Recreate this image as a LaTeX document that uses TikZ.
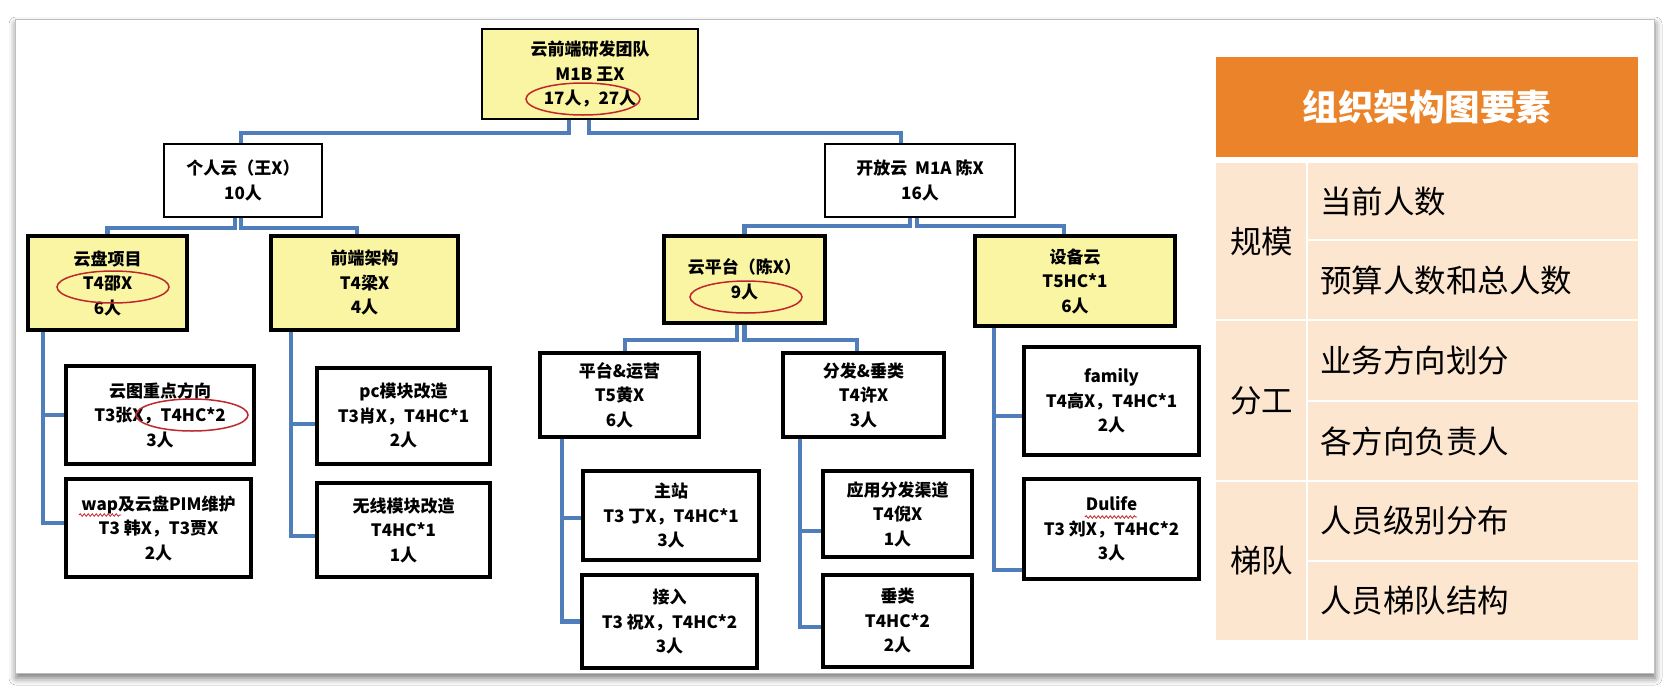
\documentclass[tikz,border=0pt]{standalone}
\usepackage{fontspec}
\setmainfont{Noto Sans CJK SC}
\usetikzlibrary{shadows.blur,decorations.pathmorphing}
\definecolor{lineblue}{HTML}{4F7EBB}
\definecolor{boxyellow}{HTML}{FAF5A2}
\definecolor{hdrorange}{HTML}{EA8329}
\definecolor{rowpeach}{HTML}{FDE6CF}
\definecolor{markred}{HTML}{C0272D}
\begin{document}
\begin{tikzpicture}[x=1pt,y=-1pt,
  box/.style={draw=black, align=center, inner sep=0pt, text=black,
    font=\bfseries\fontsize{17}{24.5}\selectfont},
  thinbox/.style={box, line width=1.8pt},
  thickbox/.style={box, line width=3.8pt},
  conn/.style={draw=lineblue, line width=4.5pt},
  ell/.style={draw=markred, line width=1.5pt},
  wavy/.style={draw=markred, line width=0.8pt, decorate, decoration={snake, amplitude=1.3pt, segment length=4pt}},
  celltext/.style={inner sep=0pt, text=black, font=\fontsize{31.5}{36}\selectfont},
  hdrtext/.style={inner sep=0pt, text=white, font=\bfseries\fontsize{35.5}{40}\selectfont}
]
\useasboundingbox (0,0) rectangle (1674,694);
\fill[white] (0,0) rectangle (1674,694);
% panel with shadow
\fill[white, blur shadow={shadow xshift=1pt, shadow yshift=-5pt, shadow blur radius=7pt, shadow opacity=55}] (15,19) rectangle (1654,673);
\draw[black!25, line width=0.6pt] (15,19) rectangle (1654,673);

% ---------- tree nodes ----------
\node[thinbox, fill=boxyellow, minimum width=216pt, minimum height=90pt] (top) at (590,74)
  {云前端研发团队\\M1B 王X\\17人，27人};
\node[thinbox, fill=white, minimum width=158pt, minimum height=73pt] (p1) at (243,180.5)
  {个人云（王X）\\10人};
\node[thinbox, fill=white, minimum width=190pt, minimum height=73pt] (p2) at (920,180.5)
  {开放云\ \ M1A 陈X\\16人};

\node[thickbox, fill=boxyellow, minimum width=159pt, minimum height=94pt] (a1) at (107.5,283)
  {云盘项目\\T4邵X\\6人};
\node[thickbox, fill=boxyellow, minimum width=187pt, minimum height=94pt] (a2) at (364.5,283)
  {前端架构\\T4梁X\\4人};
\node[thickbox, fill=boxyellow, minimum width=161pt, minimum height=87pt] (b1) at (744.5,279.5)
  {云平台（陈X）\\9人};
\node[thickbox, fill=boxyellow, minimum width=200pt, minimum height=90pt] (b2) at (1075,281)
  {设备云\\T5HC*1\\6人};

\node[thickbox, fill=white, minimum width=188pt, minimum height=98pt] (d1) at (160,415)
  {云图重点方向\\T3张X，T4HC*2\\3人};
\node[thickbox, fill=white, minimum width=185pt, minimum height=98pt] (d2) at (158.5,528)
  {wap及云盘PIM维护\\T3 韩X，T3贾X\\2人};
\node[thickbox, fill=white, minimum width=173pt, minimum height=96pt] (e1) at (403.5,416)
  {pc模块改造\\T3肖X，T4HC*1\\2人};
\node[thickbox, fill=white, minimum width=173pt, minimum height=94pt] (e2) at (403.5,530)
  {无线模块改造\\T4HC*1\\1人};

\node[thickbox, fill=white, minimum width=159pt, minimum height=84pt] (c1) at (619.5,395)
  {平台\&运营\\T5黄X\\6人};
\node[thickbox, fill=white, minimum width=161pt, minimum height=84pt] (c2) at (863.5,395)
  {分发\&垂类\\T4许X\\3人};
\node[thickbox, fill=white, minimum width=176pt, minimum height=89pt] (f1) at (671,515.5)
  {主站\\T3 丁X，T4HC*1\\3人};
\node[thickbox, fill=white, minimum width=175pt, minimum height=93pt] (f2) at (669.5,621.5)
  {接入\\T3 祝X，T4HC*2\\3人};
\node[thickbox, fill=white, minimum width=149pt, minimum height=86pt] (g1) at (897.5,514)
  {应用分发渠道\\T4倪X\\1人};
\node[thickbox, fill=white, minimum width=149pt, minimum height=92pt] (g2) at (897.5,621)
  {垂类\\T4HC*2\\2人};
\node[thickbox, fill=white, minimum width=175pt, minimum height=108pt] (h1) at (1111.5,401)
  {family\\T4高X，T4HC*1\\2人};
\node[thickbox, fill=white, minimum width=175pt, minimum height=100pt] (h2) at (1111.5,529)
  {Dulife\\T3 刘X，T4HC*2\\3人};

% ---------- connectors ----------
\draw[conn] ([xshift=-21pt]top.south) -- ++(0,13) -| ([xshift=-2pt]p1.north);
\draw[conn] ([xshift=-1pt]top.south) -- ++(0,13) -| ([xshift=-19pt]p2.north);
\draw[conn] ([xshift=-8pt]p1.south) -- ++(0,10) -| (a1.north);
\draw[conn] ([xshift=-2pt]p1.south) -- ++(0,10) -| ([xshift=-7.5pt]a2.north);
\draw[conn] ([xshift=-10pt]p2.south) -- ++(0,8) -| (b1.north);
\draw[conn] ([xshift=-3pt]p2.south) -- ++(0,8) -| ([xshift=-11pt]b2.north);
\draw[conn] ([xshift=-7.5pt]b1.south) -- ++(0,15) -| ([xshift=5.5pt]c1.north);
\draw[conn] (b1.south) -- ++(0,15) -| ([xshift=-6.5pt]c2.north);
\draw[conn] ([xshift=-64.5pt]a1.south) |- (d1.west);
\draw[conn] ([xshift=-64.5pt]a1.south) |- ([yshift=5pt]d2.west);
\draw[conn] ([xshift=-73.5pt]a2.south) |- ([yshift=-8pt]e1.west);
\draw[conn] ([xshift=-73.5pt]a2.south) |- ([yshift=-6pt]e2.west);
\draw[conn] ([xshift=-57.5pt]c1.south) |- ([yshift=-2.5pt]f1.west);
\draw[conn] ([xshift=-57.5pt]c1.south) |- (f2.west);
\draw[conn] ([xshift=-63.5pt]c2.south) |- ([yshift=-17pt]g1.west);
\draw[conn] ([xshift=-63.5pt]c2.south) |- ([yshift=-6pt]g2.west);
\draw[conn] ([xshift=-81pt]b2.south) |- ([yshift=-15pt]h1.west);
\draw[conn] ([xshift=-81pt]b2.south) |- ([yshift=-41pt]h2.west);

% ---------- red highlight ellipses and spell marks ----------
\draw[ell] (583,99) ellipse [x radius=57pt, y radius=16pt];
\draw[ell] (113,287) ellipse [x radius=56pt, y radius=16pt];
\draw[ell] (192,415) ellipse [x radius=56pt, y radius=16pt];
\draw[ell] (746,297) ellipse [x radius=56pt, y radius=16pt];
\draw[wavy] (79,515) -- (121,515);
\draw[wavy] (1085,517) -- (1137,517);

% ---------- right table ----------
\fill[hdrorange] (1216,57) rectangle (1638,157);
\node[hdrtext] (hdr) at (1427,107) {组织架构图要素};
\fill[rowpeach] (1216,163) rectangle (1638,640);
\draw[white, line width=2pt] (1307,163) -- (1307,640);
\draw[white, line width=2pt] (1307,240) -- (1638,240);
\draw[white, line width=2pt] (1216,320) -- (1638,320);
\draw[white, line width=2pt] (1307,401) -- (1638,401);
\draw[white, line width=2pt] (1216,481) -- (1638,481);
\draw[white, line width=2pt] (1307,561) -- (1638,561);
\node[celltext] (g1t) at (1261.5,241.5) {规模};
\node[celltext] (g2t) at (1261.5,400.5) {分工};
\node[celltext] (g3t) at (1261.5,560.5) {梯队};
\node[celltext, anchor=west] (r1) at (1320,201.5) {当前人数};
\node[celltext, anchor=west] (r2) at (1320,280) {预算人数和总人数};
\node[celltext, anchor=west] (r3) at (1320,360.5) {业务方向划分};
\node[celltext, anchor=west] (r4) at (1320,441) {各方向负责人};
\node[celltext, anchor=west] (r5) at (1320,521) {人员级别分布};
\node[celltext, anchor=west] (r6) at (1320,600.5) {人员梯队结构};
\end{tikzpicture}
\end{document}
